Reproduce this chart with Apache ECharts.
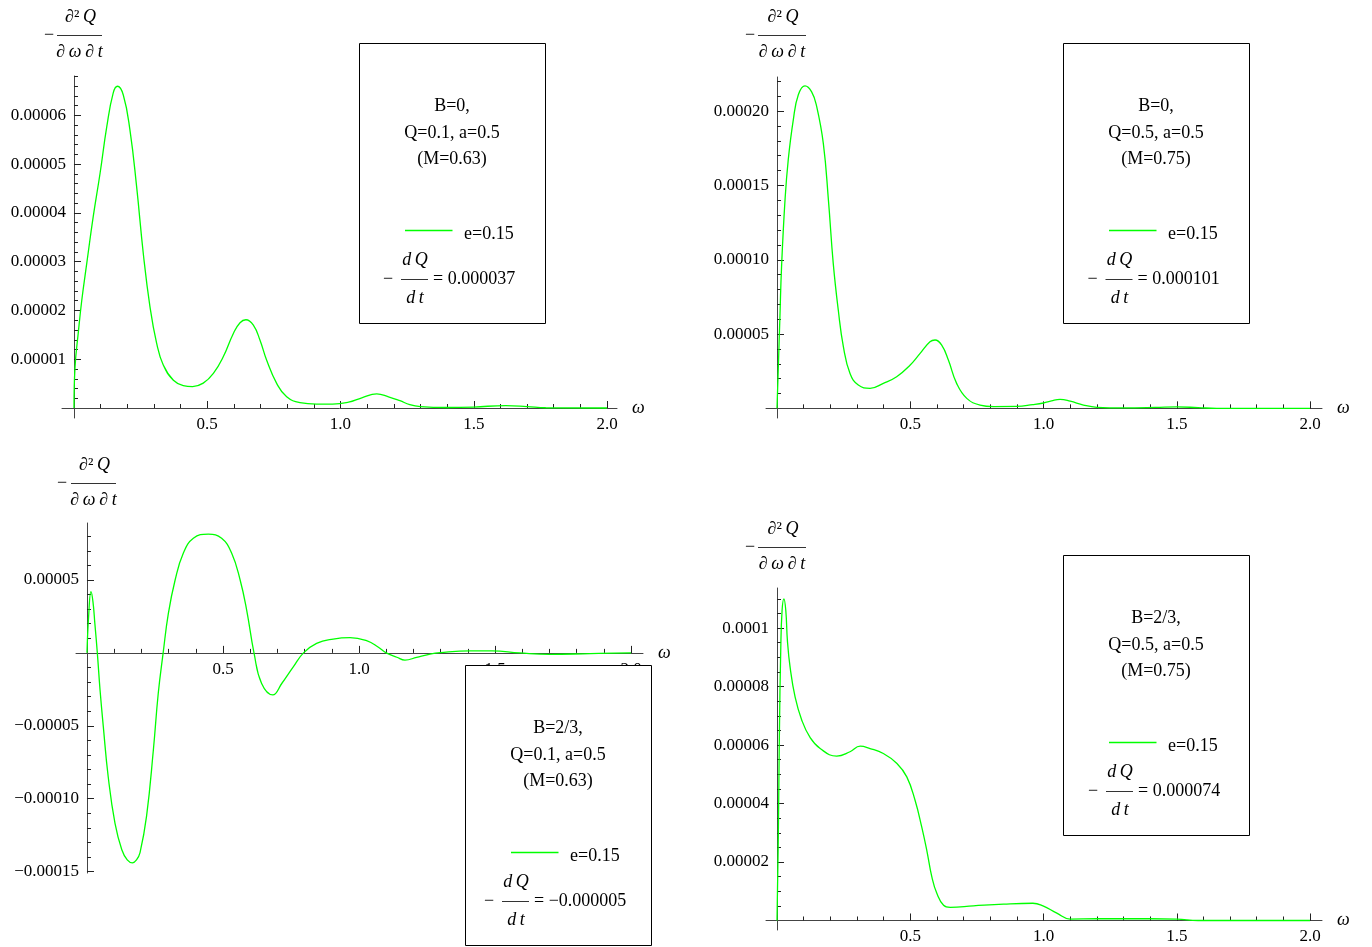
<!DOCTYPE html>
<html><head><meta charset="utf-8">
<script src="https://cdn.jsdelivr.net/npm/echarts@6/dist/echarts.min.js"></script>
<style>html,body{margin:0;padding:0;background:#fff}#c{width:1372px;height:947px}</style>
</head><body><div id="c"></div>
<script>
// ---- shared ω axis ticks ----
const omegaTicks = [0.5, 1.0, 1.5, 2.0];
const omegaTickLabels = ['0.5', '1.0', '1.5', '2.0'];

// ---- curves: [ω, value in units of 1e-5] ----
const p1Curve = [[0,0],[0.004,0.85],[0.016,1.54],[0.029,2.2],[0.048,2.97],[0.072,3.92],[0.098,4.82],[0.123,5.77],[0.147,6.46],[0.163,6.6],[0.185,6.42],[0.21,5.7],[0.235,4.54],[0.26,3.17],[0.285,2.08],[0.31,1.33],[0.335,0.88],[0.373,0.57],[0.41,0.46],[0.445,0.44],[0.485,0.51],[0.523,0.71],[0.56,1.05],[0.598,1.53],[0.623,1.75],[0.645,1.81],[0.673,1.70],[0.698,1.39],[0.723,0.98],[0.76,0.51],[0.798,0.23],[0.848,0.11],[0.91,0.08],[0.97,0.08],[1.03,0.12],[1.08,0.21],[1.136,0.29],[1.18,0.23],[1.223,0.15],[1.26,0.07],[1.3,0.03],[1.4,0.01],[1.5,0.02],[1.62,0.05],[1.7,0.03],[1.77,0.005],[2.0,0]];
const p2Curve = [[0,0],[0.005,2.8],[0.011,6.2],[0.017,9.5],[0.03,14.0],[0.042,16.7],[0.061,19.4],[0.08,21.1],[0.105,21.7],[0.13,21.3],[0.149,20.3],[0.174,17.8],[0.193,14.0],[0.211,9.76],[0.23,6.6],[0.249,4.15],[0.274,2.35],[0.305,1.57],[0.349,1.35],[0.399,1.68],[0.449,2.13],[0.499,2.9],[0.537,3.7],[0.574,4.48],[0.593,4.6],[0.618,4.26],[0.643,3.25],[0.674,1.68],[0.712,0.67],[0.762,0.22],[0.812,0.12],[0.9,0.13],[0.96,0.25],[1.0,0.36],[1.03,0.5],[1.062,0.6],[1.1,0.48],[1.15,0.22],[1.2,0.07],[1.3,0.03],[1.42,0.06],[1.5,0.1],[1.58,0.05],[1.65,0],[2.0,0]];
const p3Curve = [[0,0],[0.006,2.5],[0.0147,4.2],[0.022,3.5],[0.029,2.0],[0.038,0],[0.048,-2.55],[0.06,-5.06],[0.078,-8.5],[0.103,-11.7],[0.128,-13.5],[0.148,-14.2],[0.167,-14.4],[0.182,-14.2],[0.195,-13.7],[0.219,-11.2],[0.244,-6.66],[0.262,-2.77],[0.28,0],[0.299,2.7],[0.324,5.0],[0.354,6.83],[0.391,7.86],[0.446,8.15],[0.495,7.86],[0.532,6.83],[0.563,5.0],[0.587,2.94],[0.614,0],[0.642,-2.1],[0.683,-2.88],[0.716,-2.1],[0.759,-0.94],[0.796,0],[0.844,0.65],[0.905,0.95],[0.967,1.05],[1.03,0.82],[1.07,0.4],[1.1,0],[1.139,-0.3],[1.169,-0.5],[1.212,-0.3],[1.261,-0.08],[1.298,0.02],[1.408,0.14],[1.49,0.14],[1.59,0],[1.7,-0.1],[1.85,-0.05],[2.0,0]];
const p4Curve = [[0,0],[0.005,2.95],[0.009,6.4],[0.014,9.24],[0.019,10.6],[0.026,11.0],[0.033,10.6],[0.039,9.58],[0.049,8.67],[0.068,7.64],[0.093,6.85],[0.124,6.26],[0.162,5.88],[0.224,5.62],[0.274,5.77],[0.312,5.96],[0.349,5.88],[0.399,5.71],[0.45,5.37],[0.487,4.91],[0.518,4.11],[0.543,3.2],[0.562,2.4],[0.581,1.49],[0.6,0.92],[0.625,0.52],[0.65,0.45],[0.737,0.5],[0.85,0.56],[0.96,0.59],[0.998,0.5],[1.05,0.25],[1.1,0.05],[1.2,0.06],[1.4,0.06],[1.5,0.05],[1.58,0],[2.0,0]];

// ---- y ticks (units of 1e-5) and labels ----
const p1YTicks = [1, 2, 3, 4, 5, 6];
const p1YTickLabels = ['0.00001', '0.00002', '0.00003', '0.00004', '0.00005', '0.00006'];
const p2YTicks = [5, 10, 15, 20];
const p2YTickLabels = ['0.00005', '0.00010', '0.00015', '0.00020'];
const p3YTicks = [5, -5, -10, -15];
const p3YTickLabels = ['0.00005', '\u22120.00005', '\u22120.00010', '\u22120.00015'];
const p4YTicks = [2, 4, 6, 8, 10];
const p4YTickLabels = ['0.00002', '0.00004', '0.00006', '0.00008', '0.0001'];

// ---- legend texts ----
const p1Legend = ['B=0,', 'Q=0.1, a=0.5', '(M=0.63)'];
const p2Legend = ['B=0,', 'Q=0.5, a=0.5', '(M=0.75)'];
const p3Legend = ['B=2/3,', 'Q=0.1, a=0.5', '(M=0.63)'];
const p4Legend = ['B=2/3,', 'Q=0.5, a=0.5', '(M=0.75)'];
const seriesName = 'e=0.15';
const p1Rate = '= 0.000037';
const p2Rate = '= 0.000101';
const p3Rate = '= \u22120.000005';
const p4Rate = '= 0.000074';

// ---- layout / style ----
const F = "'Liberation Serif','Times New Roman',serif";
const FS = 17;      // tick labels
const BFS = 18;     // box / annotation text
const GREEN = '#00ff00';
const fontN = BFS + 'px ' + F;
const fontI = 'italic ' + BFS + 'px ' + F;

const panels = [
  {grid:{left:62, top:76, width:555, height:342}, xMin:-0.045, xMax:2.0375, yMin:-0.205, yMax:6.81, minorStep:0.2,
   curve:p1Curve, yTicks:p1YTicks, yLabels:p1YTickLabels, legend:p1Legend, rate:p1Rate,
   box:{x:359, y:43, shift:0}, ylab:{minus:49, x1:57, x2:102, y:35}},
  {grid:{left:766, top:77, width:556, height:341}, xMin:-0.0413, xMax:2.045, yMin:-0.65, yMax:22.3, minorStep:1,
   curve:p2Curve, yTicks:p2YTicks, yLabels:p2YTickLabels, legend:p2Legend, rate:p2Rate,
   box:{x:1063, y:43, shift:0.5}, ylab:{minus:750, x1:758, x2:806, y:35}},
  {grid:{left:76, top:523, width:567, height:350}, xMin:-0.0404, xMax:2.044, yMin:-15.1, yMax:8.91, minorStep:1,
   curve:p3Curve, yTicks:p3YTicks, yLabels:p3YTickLabels, legend:p3Legend, rate:p3Rate,
   box:{x:465, y:665, shift:-5}, ylab:{minus:62, x1:71, x2:116, y:483}},
  {grid:{left:766, top:588, width:556, height:342}, xMin:-0.0413, xMax:2.045, yMin:-0.325, yMax:11.37, minorStep:0.5,
   curve:p4Curve, yTicks:p4YTicks, yLabels:p4YTickLabels, legend:p4Legend, rate:p4Rate,
   box:{x:1063, y:555, shift:1}, ylab:{minus:750, x1:758, x2:806, y:547}}
];

function minorValues(lo, hi, step) {
  const out = [];
  for (let k = Math.ceil(lo / step - 1e-9); k * step <= hi + 1e-9; k++) {
    if (k === 0) continue;
    out.push(Math.round(k * step * 1000) / 1000);
  }
  return out;
}
function labelFor(ticks, labels) {
  return v => { const i = ticks.findIndex(t => Math.abs(t - v) < 1e-6); return i >= 0 ? labels[i] : ''; };
}
const omegaMinor = minorValues(0, 2.0, 0.1);
const axisLineStyle = {color:'#444', width:1};
const tickLineStyle = {color:'#222', width:1};
const labelStyle = {fontFamily:F, fontSize:FS, color:'#000'};

const xAxes = [], yAxes = [], series = [], graphics = [];
panels.forEach((p, i) => {
  const xi = 2 * i, yi = 2 * i;
  const g = p.grid;
  // place the axes through the origin (offset from the grid edge, in px)
  const xOff = -(g.height * (-p.yMin) / (p.yMax - p.yMin));
  const yOff = -(g.width * (-p.xMin) / (p.xMax - p.xMin));
  xAxes.push({type:'value', gridIndex:i, min:p.xMin, max:p.xMax, position:'bottom', offset:xOff,
    axisLine:{show:true, onZero:false, lineStyle:axisLineStyle},
    axisTick:{show:true, inside:true, length:7, customValues:omegaTicks, lineStyle:tickLineStyle},
    axisLabel:{show:true, customValues:omegaTicks, formatter:labelFor(omegaTicks, omegaTickLabels), margin:8, ...labelStyle},
    splitLine:{show:false}, minorTick:{show:false},
    name:'\u03c9', nameLocation:'end', nameGap:15,
    nameTextStyle:{fontFamily:F, fontSize:BFS, fontStyle:'italic', color:'#000'}});
  xAxes.push({type:'value', gridIndex:i, min:p.xMin, max:p.xMax, position:'bottom', offset:xOff,
    axisLine:{show:false, onZero:false},
    axisTick:{show:true, inside:true, length:4, customValues:omegaMinor, lineStyle:tickLineStyle},
    axisLabel:{show:false}, splitLine:{show:false}});
  const yMinor = minorValues(i === 2 ? p.yMin : 0, p.yMax, p.minorStep);
  yAxes.push({type:'value', gridIndex:i, min:p.yMin, max:p.yMax, position:'left', offset:yOff,
    axisLine:{show:true, onZero:false, lineStyle:axisLineStyle},
    axisTick:{show:true, inside:true, length:7, customValues:p.yTicks, lineStyle:tickLineStyle},
    axisLabel:{show:true, customValues:p.yTicks, formatter:labelFor(p.yTicks, p.yLabels), margin:8, ...labelStyle},
    splitLine:{show:false}});
  yAxes.push({type:'value', gridIndex:i, min:p.yMin, max:p.yMax, position:'left', offset:yOff,
    axisLine:{show:false, onZero:false},
    axisTick:{show:true, inside:true, length:4, customValues:yMinor, lineStyle:tickLineStyle},
    axisLabel:{show:false}, splitLine:{show:false}});
  series.push({type:'line', name:seriesName, xAxisIndex:xi, yAxisIndex:yi, data:p.curve,
    showSymbol:false, symbol:'none', smooth:0.45, silent:true,
    lineStyle:{color:GREEN, width:1.3}, itemStyle:{color:GREEN}, z:3});

  // y-axis fraction label  − ∂²Q / ∂ω∂t
  const c = p.ylab, cx = (c.x1 + c.x2) / 2;
  const rich = {n:{font:fontN, fill:'#000'}, i:{font:fontI, fill:'#000'}};
  graphics.push(
    {type:'text', x:c.minus, y:c.y, z:100, style:{text:'\u2212', font:fontN, fill:'#000', align:'center', verticalAlign:'middle'}},
    {type:'line', z:100, shape:{x1:c.x1, y1:c.y + 0.5, x2:c.x2, y2:c.y + 0.5}, style:{stroke:'#333', lineWidth:1}},
    {type:'text', x:cx + 1, y:c.y - 18, z:100, style:{text:'{n|\u2202\u00b2\u2009}{i|Q}', rich, font:fontN, fill:'#000', align:'center', verticalAlign:'middle'}},
    {type:'text', x:cx, y:c.y + 17.5, z:100, style:{text:'{n|\u2202\u2009}{i|\u03c9\u2009}{n|\u2202\u2009}{i|t}', rich, font:fontN, fill:'#000', align:'center', verticalAlign:'middle'}}
  );

  // legend box
  const b = p.box, x0 = b.x, y0 = b.y, s = b.shift;
  const txt = (x, y, t, align) => ({type:'text', x, y, z:101, style:{text:t, font:fontN, fill:'#000', align, verticalAlign:'middle'}});
  graphics.push(
    {type:'rect', z:100, shape:{x:x0 + 0.5, y:y0 + 0.5, width:186, height:280}, style:{fill:'#fff', stroke:'#000', lineWidth:1}},
    txt(x0 + 93, y0 + 63.5, p.legend[0], 'center'),
    txt(x0 + 93, y0 + 90, p.legend[1], 'center'),
    txt(x0 + 93, y0 + 116, p.legend[2], 'center'),
    {type:'line', z:101, shape:{x1:x0 + 46, y1:y0 + 187.5, x2:x0 + 93.5, y2:y0 + 187.5}, style:{stroke:GREEN, lineWidth:1.3}},
    txt(x0 + 105, y0 + 191, seriesName, 'left'),
    txt(x0 + 29 + s, y0 + 236, '\u2212', 'center'),
    {type:'text', x:x0 + 56 + s, y:y0 + 217, z:101, style:{text:'{i|d\u2009Q}', rich, font:fontI, fill:'#000', align:'center', verticalAlign:'middle'}},
    {type:'line', z:101, shape:{x1:x0 + 42 + s, y1:y0 + 236.5, x2:x0 + 69 + s, y2:y0 + 236.5}, style:{stroke:'#333', lineWidth:1}},
    {type:'text', x:x0 + 56 + s, y:y0 + 255, z:101, style:{text:'{i|d\u2009t}', rich, font:fontI, fill:'#000', align:'center', verticalAlign:'middle'}},
    txt(x0 + 74 + s, y0 + 236, p.rate, 'left')
  );
});

const chart = echarts.init(document.getElementById('c'), null, {renderer:'canvas'});
chart.setOption({
  animation:false,
  backgroundColor:'#fff',
  grid: panels.map(p => ({...p.grid, containLabel:false, outerBoundsMode:'none', show:false})),
  xAxis: xAxes,
  yAxis: yAxes,
  series: series,
  graphic: {elements: graphics}
});
</script></body></html>
